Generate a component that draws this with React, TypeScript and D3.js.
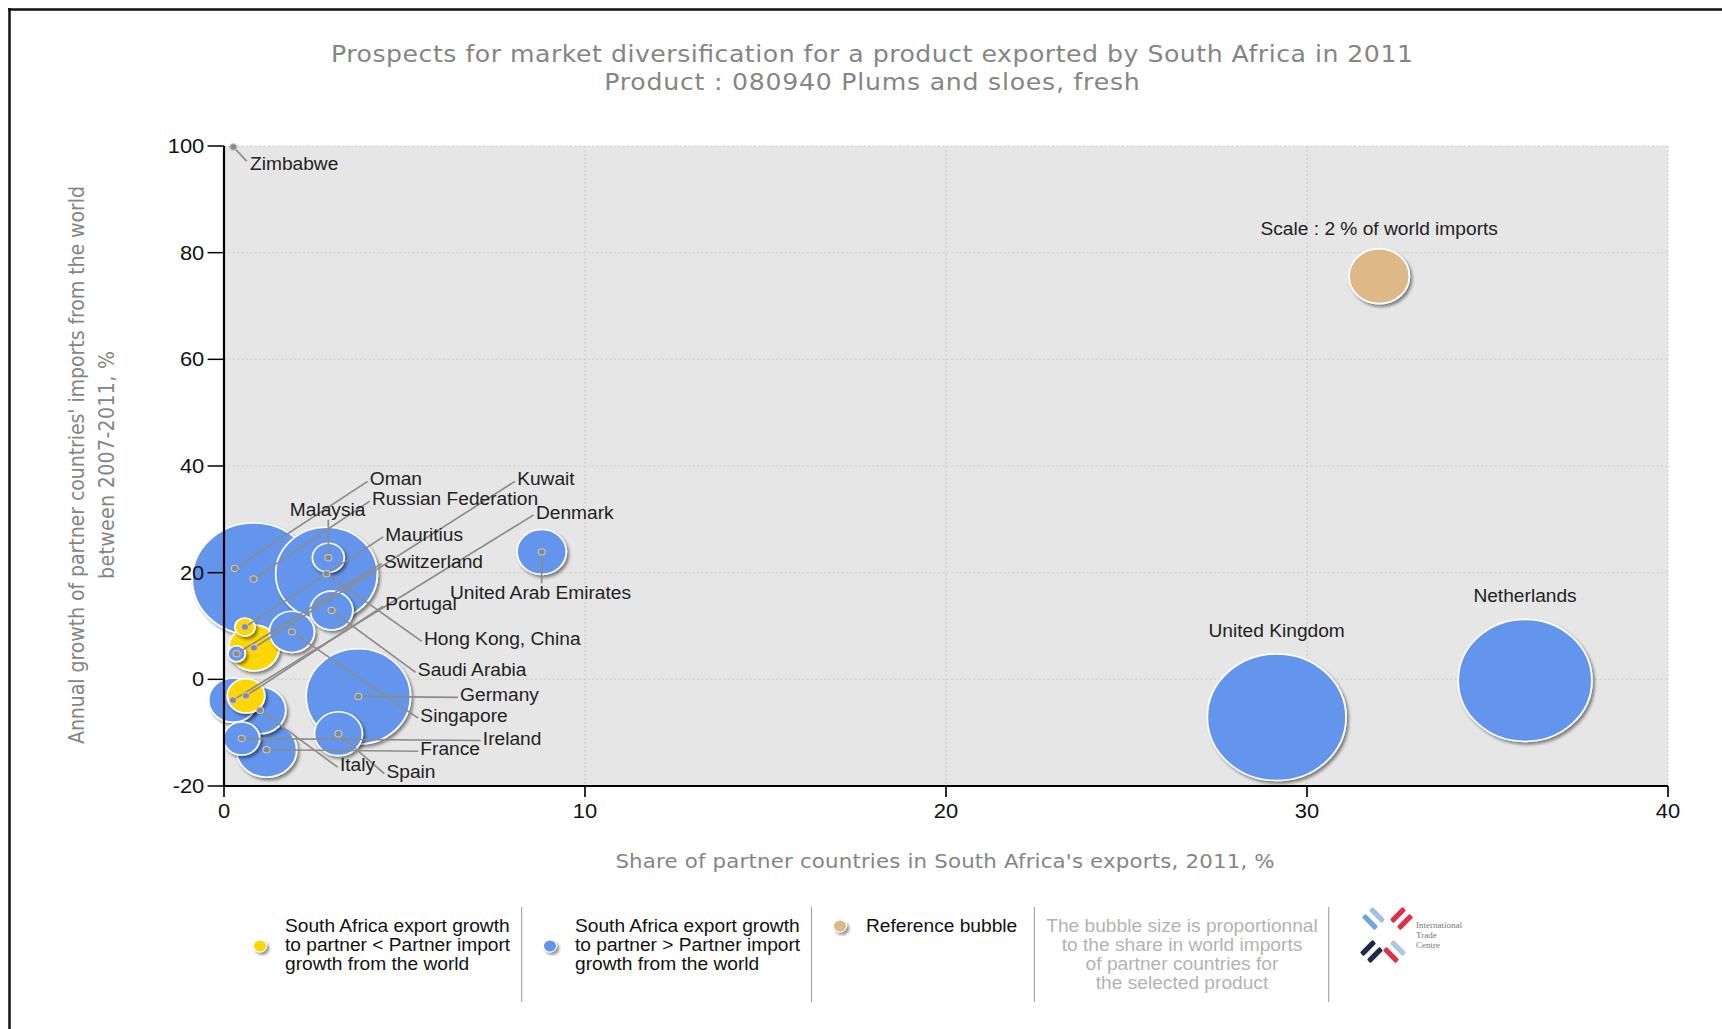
import React from 'react';
import * as d3 from 'd3';

const W = 1722;
const H = 1029;
// the reference picture is stretched a little horizontally
const SX = 1.095;

// ---- data ----
const countries = [
  'Zimbabwe', 'Oman', 'Malaysia', 'Russian Federation', 'Kuwait', 'Denmark',
  'Mauritius', 'Switzerland', 'Portugal', 'United Arab Emirates', 'Hong Kong, China',
  'Saudi Arabia', 'Germany', 'Singapore', 'Ireland', 'France', 'Italy', 'Spain',
  'United Kingdom', 'Netherlands',
];
// share of partner in South Africa's exports, 2011, %
const exportShare = [
  0.26, 0.3, 2.89, 0.82, 0.83, 0.25, 0.58, 0.35, 0.61, 8.8, 2.84,
  2.98, 3.72, 1.88, 0.49, 1.18, 1.0, 3.17, 29.16, 36.04,
];
// annual growth of partner imports from the world 2007-2011, %
const importGrowth = [
  99.8, 20.8, 22.8, 18.8, 5.9, -3.9, 9.8, 4.8, -3.1, 23.9, 19.8,
  12.9, -3.2, 8.9, -11.1, -13.2, -5.8, -10.2, -7.1, -0.2,
];
// share of partner in world imports, % (bubble size)
const worldShare = [
  0.004, 0.01, 0.56, 8.3, 1.4, 1.3, 0.22, 0.17, 0.78, 1.34, 5.7,
  1.0, 6.0, 1.12, 0.72, 2.0, 1.45, 1.27, 10.6, 9.85,
];
// 'lower': SA export growth < partner import growth, 'higher' otherwise
const growthGroup = [
  'higher', 'higher', 'higher', 'higher', 'lower', 'higher', 'lower', 'higher', 'lower', 'higher', 'higher',
  'higher', 'higher', 'higher', 'higher', 'higher', 'higher', 'higher', 'higher', 'higher',
];
// label anchors, in data units
const labelX = [
  0.72, 4.04, 2.87, 4.1, 8.12, 8.64, 4.47, 4.43, 4.47, 6.26, 5.54,
  5.37, 6.54, 5.44, 7.17, 5.44, 3.21, 4.5, 0, 0,
];
const labelY = [
  96.6, 37.5, 31.8, 33.8, 37.5, 31.2, 27.1, 22.1, 14.1, 16.3, 7.5,
  1.7, -3.0, -6.9, -11.1, -13.1, -16.1, -17.3, 0, 0,
];
const labelMode = [
  'corner', 'side', 'below', 'side', 'side', 'side', 'side', 'side', 'side', 'over', 'side',
  'side', 'side', 'side', 'side', 'side', 'side', 'side', 'above', 'above',
];

const refShare = 2;
const refPos = [32.0, 75.6];

const xTicks = [0, 10, 20, 30, 40];
const yTicks = [-20, 0, 20, 40, 60, 80, 100];

const colors: Record<string, string> = { lower: '#FFD700', higher: '#6495ED', ref: '#DEB887' };

const legendLower = ['South Africa export growth', 'to partner < Partner import', 'growth from the world'];
const legendHigher = ['South Africa export growth', 'to partner > Partner import', 'growth from the world'];
const legendNote = ['The bubble size is proportionnal', 'to the share in world imports', 'of partner countries for', 'the selected product'];

const x = d3.scaleLinear().domain([0, 40]).range([224 / SX, 1668 / SX]);
const y = d3.scaleLinear().domain([-20, 100]).range([786, 146]);
const r = d3.scaleSqrt().domain([0, refShare]).range([0, 27.5]);

const labelFont = '"Liberation Sans", Arial, sans-serif';
const titleFont = '"DejaVu Sans", Verdana, sans-serif';

const fx = (px: number) => px / SX; // full-width pixel to inner

function Logo() {
  const bars = [
    { x: 1370, y: 922, c: '#6fa8dc', a: 45 },
    { x: 1377, y: 915, c: '#9ec3e6', a: 45 },
    { x: 1398, y: 915, c: '#e0314b', a: -45 },
    { x: 1405, y: 922, c: '#e0314b', a: -45 },
    { x: 1368, y: 948, c: '#1d2a48', a: -45 },
    { x: 1375, y: 955, c: '#1d2a48', a: -45 },
    { x: 1398, y: 948, c: '#a9c6e3', a: 45 },
    { x: 1391, y: 955, c: '#e0314b', a: 45 },
  ];
  return (
    <g>
      {bars.map((b, i) => (
        <rect key={i} x={-9} y={-2.6} width={18} height={5.2} rx={1.5} fill={b.c}
          transform={`translate(${b.x},${b.y}) rotate(${b.a})`} />
      ))}
      {['International', 'Trade', 'Centre'].map((t, i) => (
        <text key={t} x={1416} y={928 + i * 10} fontFamily='"Liberation Serif", serif' fontSize={9} fill="#777">{t}</text>
      ))}
    </g>
  );
}

export default function App() {
  const items = countries.map((name, i) => ({
    name,
    cx: x(exportShare[i]),
    cy: y(importGrowth[i]),
    rr: Math.max(r(worldShare[i]), 1.5),
    color: colors[growthGroup[i]],
    lx: x(labelX[i]),
    ly: y(labelY[i]),
    mode: labelMode[i],
  }));
  const drawOrder = [...items].sort((a, b) => b.rr - a.rr);

  const leaderEnd = (d: typeof items[0]) => {
    if (d.mode === 'below') return [d.cx, d.ly + 10];
    if (d.mode === 'over') return [d.cx, d.ly - 9];
    if (d.mode === 'corner') return [d.lx - 3, d.ly - 3];
    return [d.lx - 2, d.ly + 2];
  };

  const refR = r(refShare);
  const refCx = x(refPos[0]);
  const refCy = y(refPos[1]);
  const grey = '#858585';

  return (
    <svg width={W} height={H} style={{ position: 'absolute', left: 0, top: 0, background: '#fff' }}>
      <defs>
        <filter id="shadow" x="-30%" y="-30%" width="160%" height="160%">
          <feDropShadow dx="2" dy="2.5" stdDeviation="1.4" floodColor="#000" floodOpacity="0.45" />
        </filter>
      </defs>

      {/* outer frame */}
      <line x1={8} x2={W} y1={9.5} y2={9.5} stroke="#111" strokeWidth={2.5} />
      <line x1={9.5} x2={9.5} y1={8} y2={H} stroke="#111" strokeWidth={2.5} />

      <g transform={`scale(${SX},1)`}>
        {/* titles */}
        <text x={fx(872)} y={62} textAnchor="middle" fontFamily={titleFont} fontSize={23} fill={grey}
          textLength={988} lengthAdjust="spacing">
          Prospects for market diversification for a product exported by South Africa in 2011
        </text>
        <text x={fx(872)} y={90} textAnchor="middle" fontFamily={titleFont} fontSize={23} fill={grey}
          textLength={489} lengthAdjust="spacing">
          Product : 080940 Plums and sloes, fresh
        </text>

        {/* plot area */}
        <rect x={x(0)} y={y(100)} width={x(40) - x(0)} height={y(-20) - y(100)} fill="#e6e6e6" />
        {xTicks.filter(t => t > 0).map(t => (
          <line key={'gx' + t} x1={x(t)} x2={x(t)} y1={y(100)} y2={y(-20)} stroke="#cdcdcd" strokeDasharray="2,2" />
        ))}
        {yTicks.filter(t => t > -20).map(t => (
          <line key={'gy' + t} x1={x(0)} x2={x(40)} y1={y(t)} y2={y(t)} stroke="#cdcdcd" strokeDasharray="2,2" />
        ))}

        {/* axis titles */}
        <text x={fx(945)} y={868} textAnchor="middle" fontFamily={titleFont} fontSize={19.5} fill={grey}
          textLength={602} lengthAdjust="spacing">
          Share of partner countries in South Africa's exports, 2011, %
        </text>
        <g transform={`translate(${fx(77)},465) rotate(-90)`}>
          <text x={0} y={0} dy="0.35em" textAnchor="middle" fontFamily={titleFont} fontSize={19} fill={grey}
            textLength={558} lengthAdjust="spacing">
            Annual growth of partner countries' imports from the world
          </text>
          <text x={0} y={27} dy="0.35em" textAnchor="middle" fontFamily={titleFont} fontSize={19} fill={grey}
            textLength={228} lengthAdjust="spacing">
            between 2007-2011, %
          </text>
        </g>

        {/* bubbles */}
        {drawOrder.map(d => (
          <circle key={'b' + d.name} cx={d.cx} cy={d.cy} r={d.rr} fill={d.color}
            stroke="#fff" strokeWidth={1.6} filter="url(#shadow)" />
        ))}
        <circle cx={refCx} cy={refCy} r={refR} fill={colors.ref} stroke="#fff" strokeWidth={1.6} filter="url(#shadow)" />

        {/* axes, drawn over the bubbles */}
        <line x1={x(0)} x2={x(0)} y1={y(100)} y2={y(-20) + 1} stroke="#000" strokeWidth={2} />
        <line x1={x(0) - 1} x2={x(40)} y1={y(-20)} y2={y(-20)} stroke="#000" strokeWidth={2} />
        {yTicks.map(t => (
          <g key={'ty' + t}>
            <line x1={x(0) - 15} x2={x(0)} y1={y(t)} y2={y(t)} stroke="#000" strokeWidth={1.5} />
            <text x={x(0) - 18} y={y(t)} dy="0.35em" textAnchor="end" fontFamily={labelFont} fontSize={20} fill="#111">{t}</text>
          </g>
        ))}
        {xTicks.map(t => (
          <g key={'tx' + t}>
            <line x1={x(t)} x2={x(t)} y1={y(-20)} y2={y(-20) + 11} stroke="#000" strokeWidth={1.5} />
            <text x={x(t)} y={y(-20) + 32} textAnchor="middle" fontFamily={labelFont} fontSize={20} fill="#111">{t}</text>
          </g>
        ))}

        {/* leader lines */}
        {items.filter(d => d.mode !== 'above').map(d => {
          const [ex, ey] = leaderEnd(d);
          return <line key={'l' + d.name} x1={d.cx} y1={d.cy} x2={ex} y2={ey} stroke="#8c8c8c" strokeWidth={1.6} />;
        })}
        {items.filter(d => d.mode !== 'above').map(d => (
          <circle key={'d' + d.name} cx={d.cx} cy={d.cy} r={3.2} fill="#8a8a8a" stroke="#c8c8c8" strokeWidth={1} />
        ))}

        {/* labels */}
        {items.map(d => {
          if (d.mode === 'above') {
            return <text key={'t' + d.name} x={d.cx} y={d.cy - d.rr - 17} textAnchor="middle"
              fontFamily={labelFont} fontSize={17.5} fill="#222">{d.name}</text>;
          }
          return <text key={'t' + d.name} x={d.lx} y={d.ly} dy="0.35em"
            textAnchor={d.mode === 'below' ? 'middle' : 'start'}
            fontFamily={labelFont} fontSize={17.5} fill="#222">{d.name}</text>;
        })}
        <text x={refCx} y={refCy - refR - 14} textAnchor="middle" fontFamily={labelFont} fontSize={17.5} fill="#222">
          Scale : {refShare} % of world imports
        </text>

        {/* legend */}
        {[521.6, 811.5, 1034.4, 1328.7].map(sx => (
          <line key={'sep' + sx} x1={fx(sx)} x2={fx(sx)} y1={907} y2={1002} stroke="#a0a0a0" strokeWidth={1} />
        ))}
        <circle cx={fx(260)} cy={946} r={6} fill={colors.lower} stroke="#fff" filter="url(#shadow)" />
        {legendLower.map((t, i) => (
          <text key={'ll' + i} x={fx(285)} y={932 + i * 19} fontFamily={labelFont} fontSize={17.5} fill="#111">{t}</text>
        ))}
        <circle cx={fx(550)} cy={946} r={6} fill={colors.higher} stroke="#fff" filter="url(#shadow)" />
        {legendHigher.map((t, i) => (
          <text key={'lh' + i} x={fx(575)} y={932 + i * 19} fontFamily={labelFont} fontSize={17.5} fill="#111">{t}</text>
        ))}
        <circle cx={fx(840)} cy={926} r={6} fill={colors.ref} stroke="#fff" filter="url(#shadow)" />
        <text x={fx(866)} y={932} fontFamily={labelFont} fontSize={17.5} fill="#111">Reference bubble</text>
        {legendNote.map((t, i) => (
          <text key={'ln' + i} x={fx(1182)} y={932 + i * 19} textAnchor="middle" fontFamily={labelFont} fontSize={17.5} fill="#b3b3b3">{t}</text>
        ))}
      </g>
      <Logo />
    </svg>
  );
}
